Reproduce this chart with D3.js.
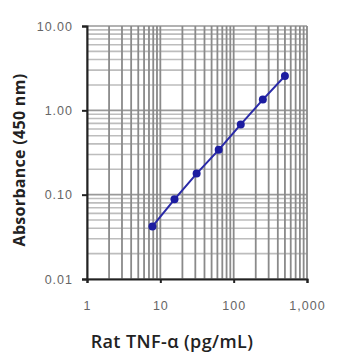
<!DOCTYPE html>
<html><head><meta charset="utf-8">
<script src="https://cdn.jsdelivr.net/npm/d3@7"></script>
<style>html,body{margin:0;padding:0;background:#fff;}svg{display:block;}</style>
</head><body>
<script>
const concentrations = [7.8, 15.6, 31.25, 62.5, 125, 250, 500];
const absorbance = [0.042, 0.088, 0.178, 0.34, 0.68, 1.34, 2.55];
const xTickValues = [1, 10, 100, 1000];
const xTickLabels = ["1", "10", "100", "1,000"];
const yTickValues = [0.01, 0.1, 1, 10];
const yTickLabels = ["0.01", "0.10", "1.00", "10.00"];
const xTitle = "Rat TNF-\u03b1 (pg/mL)";
const yTitle = "Absorbance (450 nm)";

const W = 358, H = 358;
const m = {left: 87, right: 51, top: 26, bottom: 79};
const svg = d3.select("body").append("svg").attr("width", W).attr("height", H);
const x = d3.scaleLog().domain([1, 1000]).range([m.left, W - m.right]);
const y = d3.scaleLog().domain([0.01, 10]).range([H - m.bottom, m.top]);

const minor = (lo, hi) => { const a = []; for (let d = lo; d < hi; d *= 10) for (let k = 1; k <= 10; k++) a.push(d * k); return Array.from(new Set(a.map(v => +v.toPrecision(6)))); };
const xGrid = minor(1, 1000), yGrid = minor(0.01, 10);

const g = svg.append("g");
g.selectAll("line.hg").data(yGrid).join("line").attr("class","hg")
  .attr("x1", m.left).attr("x2", W - m.right)
  .attr("y1", d => y(d)).attr("y2", d => y(d))
  .attr("stroke", d => yTickValues.includes(d) ? "#999" : "#bdbdbd").attr("stroke-width", 1.6);
g.selectAll("line.vg").data(xGrid).join("line").attr("class","vg")
  .attr("y1", m.top).attr("y2", H - m.bottom)
  .attr("x1", d => x(d)).attr("x2", d => x(d))
  .attr("stroke", "#8a8a8a").attr("stroke-width", 1.8);

// axes
const xAxis = d3.axisBottom(x).tickValues(xTickValues).tickSize(4).tickFormat((d,i) => xTickLabels[i]);
const yAxis = d3.axisLeft(y).tickValues(yTickValues).tickSize(5).tickFormat((d,i) => yTickLabels[i]);
const gx = svg.append("g").attr("transform", `translate(0,${H - m.bottom})`).call(xAxis);
const gy = svg.append("g").attr("transform", `translate(${m.left},0)`).call(yAxis);
[gx, gy].forEach(a => {
  a.select(".domain").attr("stroke", "#222").attr("stroke-width", 2);
  a.selectAll(".tick line").attr("stroke", "#222").attr("stroke-width", 2);
  a.selectAll(".tick text").attr("fill", "#666").attr("font-family", "Liberation Sans, Arial, sans-serif")
    .attr("font-size", 12.5).attr("letter-spacing", 1);
});
gx.selectAll(".tick text").attr("dy", 0).attr("y", 31);
gy.selectAll(".tick text").attr("x", -14);

// series
const pts = concentrations.map((c, i) => [c, absorbance[i]]);
svg.append("path").datum(pts)
  .attr("d", d3.line().x(d => x(d[0])).y(d => y(d[1])))
  .attr("fill", "none").attr("stroke", "#2a2aa8").attr("stroke-width", 2);
svg.selectAll("circle.pt").data(pts).join("circle").attr("class","pt")
  .attr("cx", d => x(d[0])).attr("cy", d => y(d[1])).attr("r", 4)
  .attr("fill", "#1c1ca0");

svg.append("text").attr("x", 172).attr("y", 348).attr("text-anchor", "middle")
  .attr("font-family", "Open Sans, sans-serif").attr("font-weight", 600).attr("font-size", 18)
  .attr("letter-spacing", 0.4).attr("fill", "#222")
  .text(xTitle);
svg.append("text").attr("transform", `translate(25,160) rotate(-90)`).attr("text-anchor", "middle")
  .attr("font-family", "Open Sans, sans-serif").attr("font-weight", 700).attr("font-size", 16)
  .attr("letter-spacing", 0.3).attr("fill", "#222")
  .text(yTitle);
</script>
</body></html>
